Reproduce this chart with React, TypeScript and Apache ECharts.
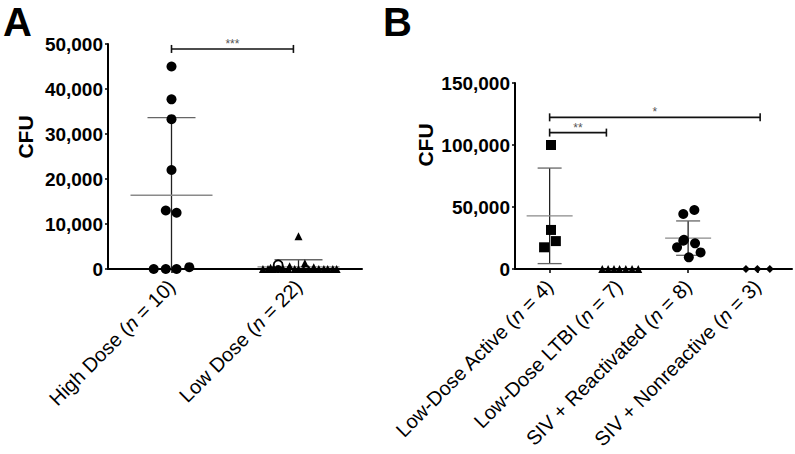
import React, { useEffect, useRef } from "react";
import * as echarts from "echarts";

// ---------- Panel A data ----------
const catsA = ["High Dose", "Low Dose"];
const nA = [10, 22];
const yTicksA = [0, 10000, 20000, 30000, 40000, 50000];
const highDose = [45000, 37700, 33300, 22000, 13000, 12500, 400, 0, 0, 0];
const highDoseJitter = [0, 0, 0, 0, -0.045, 0.04, 0.14, -0.14, -0.045, 0.04];
const lowDose = [7300, 900, 1300, 600, 400, 300, 0, 0, 0, 0, 0, 0, 0, 0, 0, 0, 0, 0, 0, 0, 0, 0];
const lowDoseJitter = [0, -0.16, 0.05, -0.07, 0.12, -0.22, -0.28, -0.24, -0.2, -0.16, -0.12, -0.08, -0.03, 0.0, 0.04, 0.08, 0.12, 0.16, 0.2, 0.23, 0.27, 0.3];
const lowDoseShape = ["triangle", "emptyCircle", "triangle", "triangle", "triangle", "triangle", "triangle", "triangle", "triangle", "circle", "triangle", "triangle", "triangle", "triangle", "triangle", "triangle", "triangle", "triangle", "triangle", "triangle", "triangle", "triangle"];
const bracketsA = [[0, 0.96, 48900]];
const starsA = ["***"];

// ---------- Panel B data ----------
const catsB = ["Low-Dose Active", "Low-Dose LTBI", "SIV + Reactivated", "SIV + Nonreactive"];
const nB = [4, 7, 8, 3];
const yTicksB = [0, 50000, 100000, 150000];
const activeVals = [100000, 31500, 22500, 17500];
const activeJitter = [0.02, 0.02, 0.09, -0.08];
const ltbiVals = [0, 0, 0, 0, 0, 0, 0];
const ltbiJitter = [-0.24, -0.155, -0.07, 0.01, 0.1, 0.19, 0.28];
const reactVals = [47600, 44350, 22800, 23500, 20700, 17500, 13400, 9400];
const reactJitter = [0.09, -0.07, -0.07, -0.06, 0.1, -0.16, 0.18, 0.01];
const nonreactVals = [0, 0, 0];
const nonreactJitter = [-0.165, 0, 0.18];
const bracketsB = [[0, 0.82, 110000], [0, 3.04, 122300]];
const starsB = ["**", "*"];

const FONT = "'Liberation Sans', Arial, Helvetica, sans-serif";

function mean(a: number[]) {
  return a.reduce((s, v) => s + v, 0) / a.length;
}
function sd(a: number[]) {
  const m = mean(a);
  return Math.sqrt(a.reduce((s, v) => s + (v - m) * (v - m), 0) / (a.length - 1));
}

function statsData(groups: number[][]) {
  const out: number[][] = [];
  groups.forEach((g, i) => {
    const s = sd(g);
    if (s > 0) out.push([i, mean(g), s]);
  });
  return out;
}

function meanSdSeries(xIdx: number, yIdx: number, data: number[][], halfMean: number, halfCap: number) {
  return {
    type: "custom",
    xAxisIndex: xIdx,
    yAxisIndex: yIdx,
    z: 1,
    silent: true,
    data,
    renderItem: (params: any, api: any) => {
      const cx = api.value(0);
      const m = api.value(1);
      const s = api.value(2);
      const pm = api.coord([cx, m]);
      const pu = api.coord([cx, m + s]);
      const low = m - s;
      const pl = api.coord([cx, Math.max(0, low)]);
      const children: any[] = [
        { type: "line", shape: { x1: pu[0], y1: pu[1], x2: pl[0], y2: pl[1] }, style: { stroke: "#222", lineWidth: 1.3 } },
        { type: "line", shape: { x1: pu[0] - halfCap, y1: pu[1], x2: pu[0] + halfCap, y2: pu[1] }, style: { stroke: "#666", lineWidth: 1.3 } },
        { type: "line", shape: { x1: pm[0] - halfMean, y1: pm[1], x2: pm[0] + halfMean, y2: pm[1] }, style: { stroke: "#8a8a8a", lineWidth: 1.3 } },
      ];
      if (low > 0) {
        children.push({ type: "line", shape: { x1: pl[0] - halfCap, y1: pl[1], x2: pl[0] + halfCap, y2: pl[1] }, style: { stroke: "#666", lineWidth: 1.3 } });
      }
      return { type: "group", children };
    },
  };
}

function bracketSeries(xIdx: number, yIdx: number, data: number[][], stars: string[]) {
  return {
    type: "custom",
    xAxisIndex: xIdx,
    yAxisIndex: yIdx,
    z: 3,
    silent: true,
    data,
    renderItem: (params: any, api: any) => {
      const p1 = api.coord([api.value(0), api.value(2)]);
      const p2 = api.coord([api.value(1), api.value(2)]);
      return {
        type: "group",
        children: [
          { type: "line", shape: { x1: p1[0], y1: p1[1], x2: p2[0], y2: p2[1] }, style: { stroke: "#111", lineWidth: 1.6 } },
          { type: "line", shape: { x1: p1[0], y1: p1[1] - 4, x2: p1[0], y2: p1[1] + 4 }, style: { stroke: "#111", lineWidth: 1.6 } },
          { type: "line", shape: { x1: p2[0], y1: p2[1] - 4, x2: p2[0], y2: p2[1] + 4 }, style: { stroke: "#111", lineWidth: 1.6 } },
          {
            type: "text",
            style: {
              x: (p1[0] + p2[0]) / 2,
              y: p1[1] - 11,
              text: stars[params.dataIndex],
              fill: "#555",
              font: `12px ${FONT}`,
              textAlign: "center",
              textVerticalAlign: "top",
            },
          },
        ],
      };
    },
  };
}

function pts(vals: number[], jit: number[], offset: number, shapes: string[] | string, size: number) {
  return vals.map((v, i) => {
    const shape = Array.isArray(shapes) ? shapes[i] : shapes;
    const empty = shape === "emptyCircle";
    return {
      value: [offset + jit[i], v],
      symbol: "circle" === shape || empty ? "circle" : shape,
      symbolSize: empty ? 9 : size,
      itemStyle: empty
        ? { color: "#fff", borderColor: "#000", borderWidth: 1.8, opacity: 1 }
        : { color: "#000", opacity: 1 },
    };
  });
}

function catLabelFormatter(names: string[], ns: number[]) {
  return (_v: string, idx: number) => `{r|${names[idx]} (}{i|n}{r| = ${ns[idx]})}`;
}

const richLabel = {
  r: { fontSize: 20, fontFamily: FONT, color: "#000" },
  i: { fontSize: 20, fontFamily: FONT, color: "#000", fontStyle: "italic" },
};

function catAxis(gridIndex: number, names: string[], ns: number[]) {
  return {
    type: "category",
    gridIndex,
    data: names,
    axisLine: { show: true, onZero: false, lineStyle: { color: "#000", width: 2 } },
    axisTick: { show: true, alignWithLabel: true, length: 4, lineStyle: { color: "#000", width: 1.5 } },
    axisLabel: {
      interval: 0,
      rotate: 45,
      margin: 14,
      formatter: catLabelFormatter(names, ns),
      rich: richLabel,
    },
    splitLine: { show: false },
  };
}

function valXAxis(gridIndex: number, count: number) {
  return { type: "value", gridIndex, min: -0.5, max: count - 0.5, show: false };
}

function yAxis(gridIndex: number, ticks: number[]) {
  return {
    type: "value",
    gridIndex,
    min: ticks[0],
    max: ticks[ticks.length - 1],
    interval: ticks[1] - ticks[0],
    axisLine: { show: true, onZero: false, lineStyle: { color: "#000", width: 2 } },
    axisTick: { show: true, length: 3, lineStyle: { color: "#000", width: 1.5 } },
    axisLabel: {
      margin: 5,
      color: "#000",
      fontFamily: FONT,
      fontWeight: "bold",
      fontSize: 19,
      formatter: (v: number) => v.toLocaleString("en-US"),
    },
    splitLine: { show: false },
  };
}

export default function App() {
  const ref = useRef<HTMLDivElement>(null);
  useEffect(() => {
    document.body.style.margin = "0";
    if (!ref.current) return;
    const chart = echarts.init(ref.current, undefined, { renderer: "svg" });
    const option: any = {
      animation: false,
      backgroundColor: "#fff",
      grid: [
        { left: 108, right: 433, top: 44, bottom: 185, containLabel: false },
        { left: 515, right: 3, top: 83, bottom: 185, containLabel: false },
      ],
      xAxis: [catAxis(0, catsA, nA), valXAxis(0, catsA.length), catAxis(1, catsB, nB), valXAxis(1, catsB.length)],
      yAxis: [yAxis(0, yTicksA), yAxis(1, yTicksB)],
      graphic: [
        { type: "text", left: 3, top: 2, style: { text: "A", font: `bold 40px ${FONT}`, fill: "#000" } },
        { type: "text", left: 383, top: 2, style: { text: "B", font: `bold 40px ${FONT}`, fill: "#000" } },
        { type: "text", x: 25, y: 137, rotation: Math.PI / 2, style: { text: "CFU", font: `bold 21px ${FONT}`, fill: "#000", textAlign: "center", textVerticalAlign: "middle" } },
        { type: "text", x: 425, y: 145, rotation: Math.PI / 2, style: { text: "CFU", font: `bold 21px ${FONT}`, fill: "#000", textAlign: "center", textVerticalAlign: "middle" } },
      ],
      series: [
        meanSdSeries(1, 0, statsData([highDose, lowDose]), 41, 24),
        meanSdSeries(3, 1, statsData([activeVals, ltbiVals, reactVals, nonreactVals]), 23, 12),
        bracketSeries(1, 0, bracketsA, starsA),
        bracketSeries(3, 1, bracketsB, starsB),
        { type: "scatter", xAxisIndex: 1, yAxisIndex: 0, z: 2, data: pts(highDose, highDoseJitter, 0, "circle", 10) },
        { type: "scatter", xAxisIndex: 1, yAxisIndex: 0, z: 2, data: pts(lowDose, lowDoseJitter, 1, lowDoseShape, 8) },
        { type: "scatter", xAxisIndex: 3, yAxisIndex: 1, z: 2, data: pts(activeVals, activeJitter, 0, "rect", 10) },
        { type: "scatter", xAxisIndex: 3, yAxisIndex: 1, z: 2, data: pts(ltbiVals, ltbiJitter, 1, "triangle", 8) },
        { type: "scatter", xAxisIndex: 3, yAxisIndex: 1, z: 2, data: pts(reactVals, reactJitter, 2, "circle", 10) },
        { type: "scatter", xAxisIndex: 3, yAxisIndex: 1, z: 2, data: pts(nonreactVals, nonreactJitter, 3, "diamond", 8) },
      ],
    };
    chart.setOption(option);
    return () => chart.dispose();
  }, []);
  return <div ref={ref} style={{ width: 795, height: 454 }} />;
}
